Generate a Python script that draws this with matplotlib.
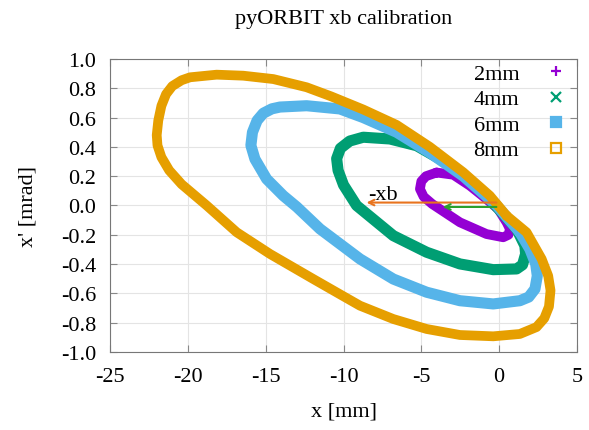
import matplotlib
matplotlib.use("Agg")
import matplotlib.pyplot as plt
from matplotlib.lines import Line2D

plt.rcParams['font.family'] = ['Liberation Serif', 'DejaVu Serif']
plt.rcParams['axes.unicode_minus'] = False

# contours (x [mm], x' [mrad])
x_2mm = [-4.02, -4.7, -5.0, -5.09, -4.85, -4.3, -2.52, -0.81, 0.26, 0.6, 0.69, 0.48, -0.06, -1.0, -1.88, -2.95, -4.02]
y_2mm = [0.225, 0.2, 0.165, 0.113, 0.06, 0.01, -0.115, -0.195, -0.217, -0.2, -0.16, -0.115, -0.024, 0.06, 0.135, 0.21, 0.225]

x_4mm = [-1.03, -2.31, -3.8, -5.3, -7.02, -8.73, -9.6, -10.2, -10.44, -10.35, -10.0, -9.16, -6.8, -4.66, -2.52,
         -0.38, 1.12, 1.5, 1.7, 1.65, 1.12, 0.2, -1.03]
y_4mm = [0.09, 0.203, 0.317, 0.408, 0.454, 0.466, 0.44, 0.39, 0.32, 0.24, 0.14, 0.0, -0.206, -0.319, -0.399,
         -0.438, -0.433, -0.405, -0.33, -0.274, -0.16, -0.05, 0.09]

x_6mm = [1.33, 1.97, 2.35, 2.45, 2.3, 1.9, 1.33, -0.38, -2.52, -4.66, -6.8, -8.94, -11.51, -13.0, -13.87,
         -14.94, -15.69, -15.95, -15.85, -15.55, -15.15, -14.6, -14.08, -12.37, -10.23, -8.73, -6.59, -4.45,
         -2.3, -0.16, 1.33]
y_6mm = [-0.183, -0.297, -0.4, -0.48, -0.57, -0.625, -0.65, -0.672, -0.65, -0.592, -0.502, -0.365, -0.16, -0.01, 0.067,
         0.181, 0.317, 0.41, 0.5, 0.58, 0.63, 0.66, 0.672, 0.681, 0.659, 0.60, 0.50, 0.36,
         0.2, 0.0, -0.183]

x_8mm = [0.48, 1.76, 2.73, 3.15, 3.3, 3.2, 2.9, 2.4, 1.33, -0.38, -2.52, -4.66, -6.8, -8.94, -9.8, -11.94,
         -14.72, -16.86, -18.79, -20.4, -21.2, -21.7, -21.95, -22.0, -21.9, -21.7, -21.4, -21.0, -20.4, -19.86,
         -18.15, -16.44, -14.51, -12.37, -10.8, -8.73, -6.59, -4.45, -2.31, -0.6, 0.48]
y_8mm = [-0.07, -0.183, -0.365, -0.48, -0.58, -0.69, -0.77, -0.83, -0.877, -0.893, -0.884, -0.843, -0.775, -0.684, -0.632, -0.502,
         -0.331, -0.183, 0.0, 0.145, 0.24, 0.33, 0.41, 0.48, 0.58, 0.68, 0.76, 0.815, 0.855, 0.875,
         0.893, 0.886, 0.863, 0.807, 0.745, 0.655, 0.55, 0.40, 0.227, 0.067, -0.07]

labels = ["2mm", "4mm", "6mm", "8mm"]
colors = ["#9400d3", "#009e73", "#56b4e9", "#e69f00"]
markers = ["+", "x", "s", "s"]

# arrows: start (0, y) -> end
xb_ends = [-8.7, -3.8]
xb_y = [0.02, -0.01]
arrow_colors = ["#e8731e", "#2ca02c"]

fig = plt.figure(figsize=(5.89, 4.31), dpi=100)
ax = fig.add_axes([0.1868, 0.181, 0.7928, 0.6798])

series = [(x_2mm, y_2mm), (x_4mm, y_4mm), (x_6mm, y_6mm), (x_8mm, y_8mm)]
widths = [7, 8, 8, 7]
handles = []
for (xs, ys), lab, c, m, w in zip(series, labels, colors, markers, widths):
    ax.plot(xs, ys, color=c, lw=w, solid_joinstyle='round', solid_capstyle='round', zorder=2)
    face = 'none' if lab == "8mm" else c
    handles.append(Line2D([], [], ls='none', marker=m, ms=6.5, mfc=face, mec=c, mew=1.6, label=lab))

for xe, ya, ac in zip(xb_ends, xb_y, arrow_colors):
    ax.annotate("", xy=(xe, ya), xytext=(0, ya),
                arrowprops=dict(arrowstyle='->', color=ac, lw=1.5), zorder=5)
ax.text(-8.4, 0.045, "-xb", fontsize=16, ha='left', va='baseline')

ax.set_xlim(-25, 5)
ax.set_ylim(-1.0, 1.0)
ax.set_xticks(range(-25, 6, 5))
ax.set_yticks([i / 5 for i in range(-5, 6)])
ax.set_yticklabels([f"{i / 5:.1f}" for i in range(-5, 6)])
ax.grid(True, color='#e4e4e4', lw=0.8)
ax.set_axisbelow(True)
ax.tick_params(direction='in', top=True, right=True, labelsize=16, length=5, color='#888888')
ax.tick_params(axis='x', pad=11)
ax.tick_params(axis='y', pad=10)
for s in ax.spines.values():
    s.set_color('#777777')

ax.set_xlabel("x [mm]", fontsize=16, labelpad=11)
ax.set_ylabel("x' [mrad]", fontsize=16, labelpad=17)
ax.set_title("pyORBIT xb calibration", fontsize=16, pad=26)

ax.legend(handles=handles, loc='upper right', markerfirst=False, frameon=False, fontsize=16,
          handlelength=1.5, handletextpad=0.9, labelspacing=0.22, borderaxespad=0.0,
          borderpad=0.2)

fig.savefig("out.png", dpi=100)
